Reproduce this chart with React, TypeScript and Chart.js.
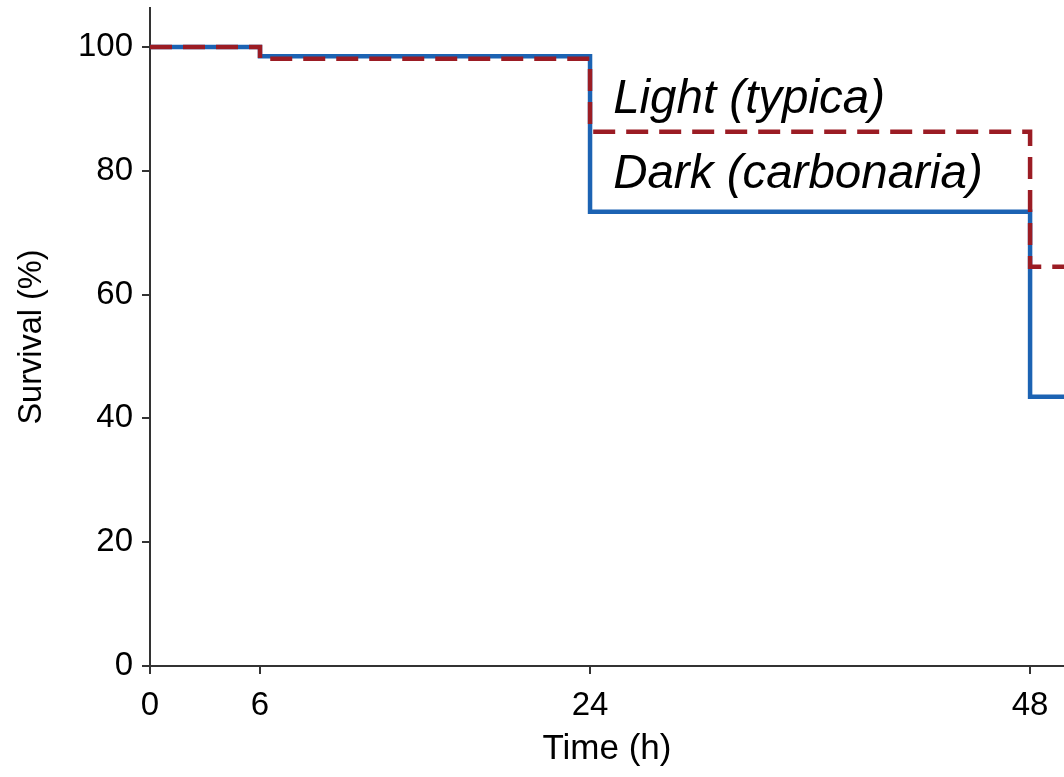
import React, { useEffect, useRef } from "react";
import { Chart, registerables } from "chart.js";

Chart.register(...registerables);

// ---- data ----
const timeHours = [0, 6, 24, 48, 49.85];
const darkSurvival = [100, 98.5, 73.4, 43.5, 43.5];
const lightSurvival = [100, 98.1, 86.3, 64.5, 64.5];
const xTickValues = [0, 6, 24, 48];
const yTickValues = [0, 20, 40, 60, 80, 100];
const seriesLabels = ["Dark (carbonaria)", "Light (typica)"];
const xTitle = "Time (h)";
const yTitle = "Survival (%)";
// annotation anchors in data units (x hours, y %)
const annotationTexts = ["Light (typica)", "Dark (carbonaria)"];
const annotationX = [25.26, 25.26];
const annotationY = [89.3, 77.2];

const X_MAX = 49.85;
const Y_MAX = 106.3;
const FONT = "'Liberation Sans', Arial, Helvetica, sans-serif";
const BLUE = "#1c63b3";
const RED = "#9b1c24";
const AXIS = "#333333";

const annotationPlugin = {
  id: "textAnnotations",
  afterDatasetsDraw(chart: any) {
    const { ctx, scales } = chart;
    ctx.save();
    ctx.font = `italic 47.5px ${FONT}`;
    ctx.fillStyle = "#000";
    ctx.textAlign = "left";
    ctx.textBaseline = "alphabetic";
    annotationTexts.forEach((t, i) => {
      const px = scales.x.getPixelForValue(annotationX[i]);
      const py = scales.y.getPixelForValue(annotationY[i]);
      ctx.fillText(t, px, py);
    });
    ctx.restore();
  },
};

export default function App() {
  const ref = useRef<HTMLCanvasElement | null>(null);
  useEffect(() => {
    if (!ref.current) return;
    const points = (vals: number[]) => timeHours.map((t, i) => ({ x: t, y: vals[i] }));
    const chart = new Chart(ref.current, {
      type: "line",
      data: {
        datasets: [
          {
            label: seriesLabels[0],
            data: points(darkSurvival),
            borderColor: BLUE,
            borderWidth: 4.5,
            stepped: "before",
            pointRadius: 0,
            fill: false,
            order: 2,
          },
          {
            label: seriesLabels[1],
            data: points(lightSurvival),
            borderColor: RED,
            borderWidth: 4.5,
            borderDash: [22, 11],
            stepped: "before",
            pointRadius: 0,
            fill: false,
            order: 1,
          },
        ],
      },
      options: {
        animation: false,
        responsive: false,
        devicePixelRatio: 1,
        layout: { padding: { top: 8, right: 0, left: 0, bottom: 0 } },
        plugins: { legend: { display: false }, tooltip: { enabled: false } },
        scales: {
          x: {
            type: "linear",
            min: 0,
            max: X_MAX,
            afterBuildTicks: (s: any) => {
              s.ticks = xTickValues.map((v) => ({ value: v }));
            },
            afterFit: (s: any) => {
              s.height = 111;
              s.paddingLeft = 0;
              s.paddingRight = 0;
            },
            grid: { display: true, drawOnChartArea: false, tickLength: 8, color: AXIS, lineWidth: 2 },
            border: { display: true, color: AXIS, width: 2 },
            ticks: {
              color: "#000",
              font: { family: FONT, size: 33 },
              padding: 12,
              maxRotation: 0,
              callback: (v: any) => String(v),
            },
            title: {
              display: true,
              text: xTitle,
              color: "#000",
              font: { family: FONT, size: 35 },
              padding: { top: 0, bottom: 7 },
            },
          },
          y: {
            type: "linear",
            min: 0,
            max: Y_MAX,
            afterBuildTicks: (s: any) => {
              s.ticks = yTickValues.map((v) => ({ value: v }));
            },
            afterFit: (s: any) => {
              s.width = 150;
              s.paddingTop = 0;
              s.paddingBottom = 0;
            },
            grid: { display: true, drawOnChartArea: false, tickLength: 8, color: AXIS, lineWidth: 2 },
            border: { display: true, color: AXIS, width: 2 },
            ticks: {
              color: "#000",
              font: { family: FONT, size: 33 },
              padding: 9,
              callback: (v: any) => String(v),
            },
            title: {
              display: true,
              text: yTitle,
              color: "#000",
              font: { family: FONT, size: 32.5 },
              padding: { top: 13, bottom: 0 },
            },
          },
        },
      },
      plugins: [annotationPlugin],
    });
    return () => chart.destroy();
  }, []);

  return (
    <div style={{ position: "absolute", left: 0, top: 0, width: 1064, height: 777, background: "#fff" }}>
      <canvas ref={ref} width={1064} height={777} style={{ display: "block" }} />
    </div>
  );
}
